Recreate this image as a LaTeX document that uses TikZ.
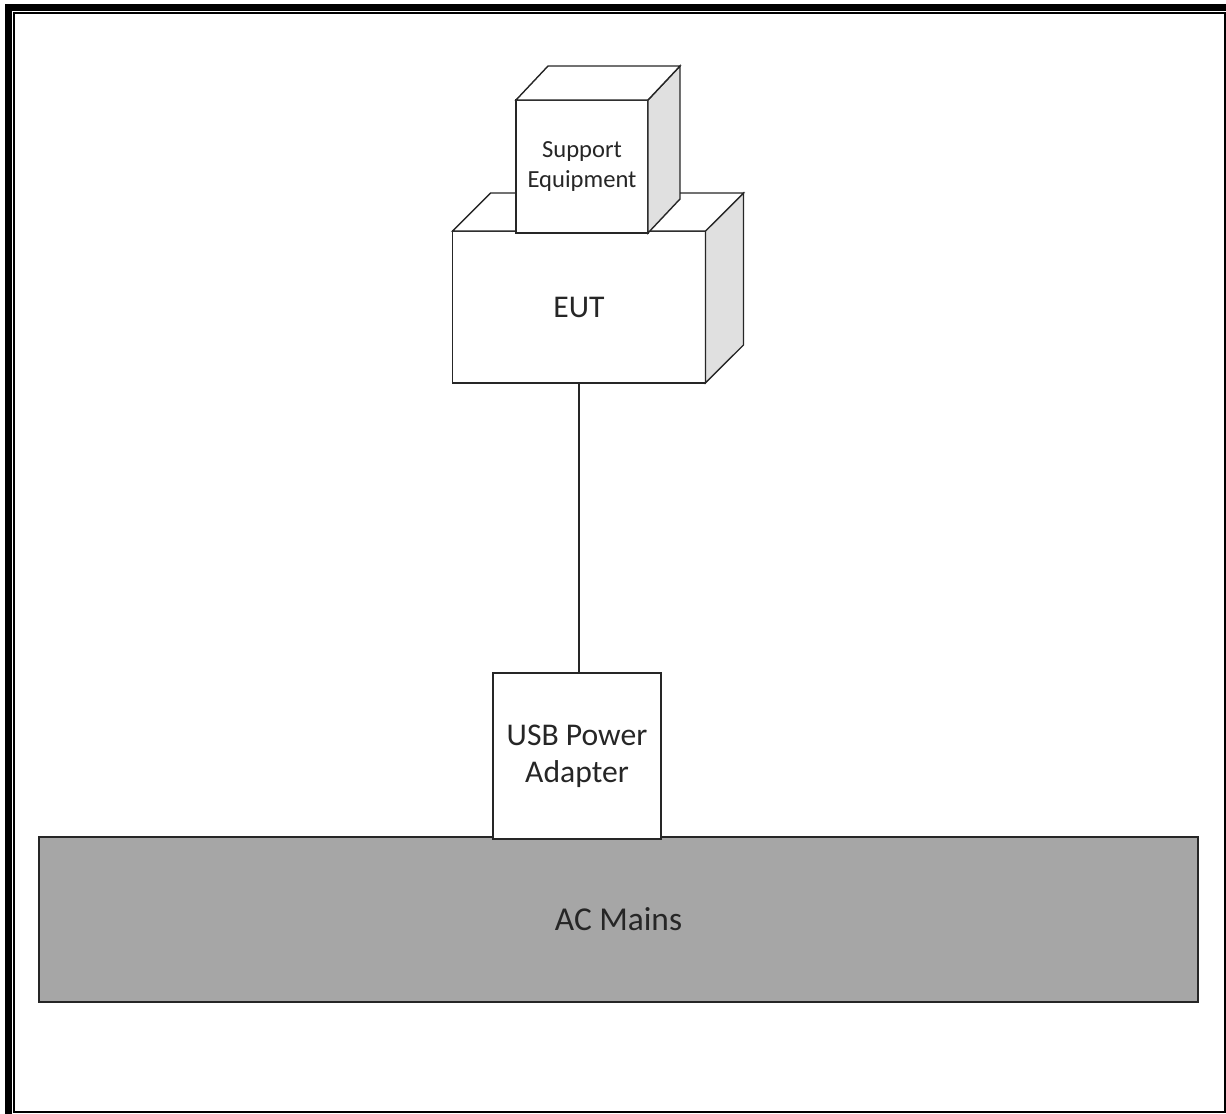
\documentclass[tikz,border=0pt]{standalone}
\usepackage{fontspec}
\setmainfont{Carlito}
\usepackage{xcolor}
\usepackage{tikz}
\usetikzlibrary{positioning}

\definecolor{mainsgray}{HTML}{A6A6A6}
\definecolor{sidegray}{HTML}{E0E0E0}

\begin{document}
\begin{tikzpicture}[x=0.02cm,y=-0.02cm,
        box/.style={rectangle,draw=black!85,fill=white,line width=0.8pt,outer sep=0pt,inner sep=0pt,align=center,text=black!85,font=\fontsize{18}{21}\selectfont},
        sideface/.style={draw=black!85,fill=sidegray,line width=0.8pt,line join=miter},
        topface/.style={draw=black!85,fill=white,line width=0.8pt,line join=miter},
        wire/.style={draw=black!85,line width=0.8pt}]
        \useasboundingbox (0,0) rectangle (1226,1114);
        \clip (0,0) rectangle (1226,1114);
        % page frame
        \draw[line width=0.14cm] (8.5,7.5) rectangle (1240,1130);
        \draw[line width=0.04cm] (14,13) rectangle (1224.5,1112);
        % mains and adapter
        \node[box,fill=mainsgray,minimum width=23.18cm,minimum height=3.30cm,font=\fontsize{19}{22}\selectfont] (mains) at (618.5,919.5) {AC Mains};
        \node[box,minimum width=3.36cm,minimum height=3.32cm] (usb) at (577,756) {USB Power\\Adapter};
        % EUT cube
        \node[box,minimum width=5.06cm,minimum height=3.04cm] (eut) at (579,307) {EUT};
        \filldraw[sideface] (eut.north east) -- ++(38,-38) -- ++(0,152) -- (eut.south east) -- cycle;
        \filldraw[topface] (eut.north west) -- ++(38,-38) -- ++(253,0) -- (eut.north east) -- cycle;
        % support equipment cube
        \node[box,minimum width=2.64cm,minimum height=2.66cm,font=\fontsize{14}{17}\selectfont] (supp) at (582,166.5) {Support\\Equipment};
        \filldraw[sideface] (supp.north east) -- ++(32,-34) -- ++(0,133) -- (supp.south east) -- cycle;
        \filldraw[topface] (supp.north west) -- ++(32,-34) -- ++(132,0) -- (supp.north east) -- cycle;
        % power cable
        \draw[wire] (eut.south) -- (eut.south |- usb.north);
    \end{tikzpicture}
\end{document}
